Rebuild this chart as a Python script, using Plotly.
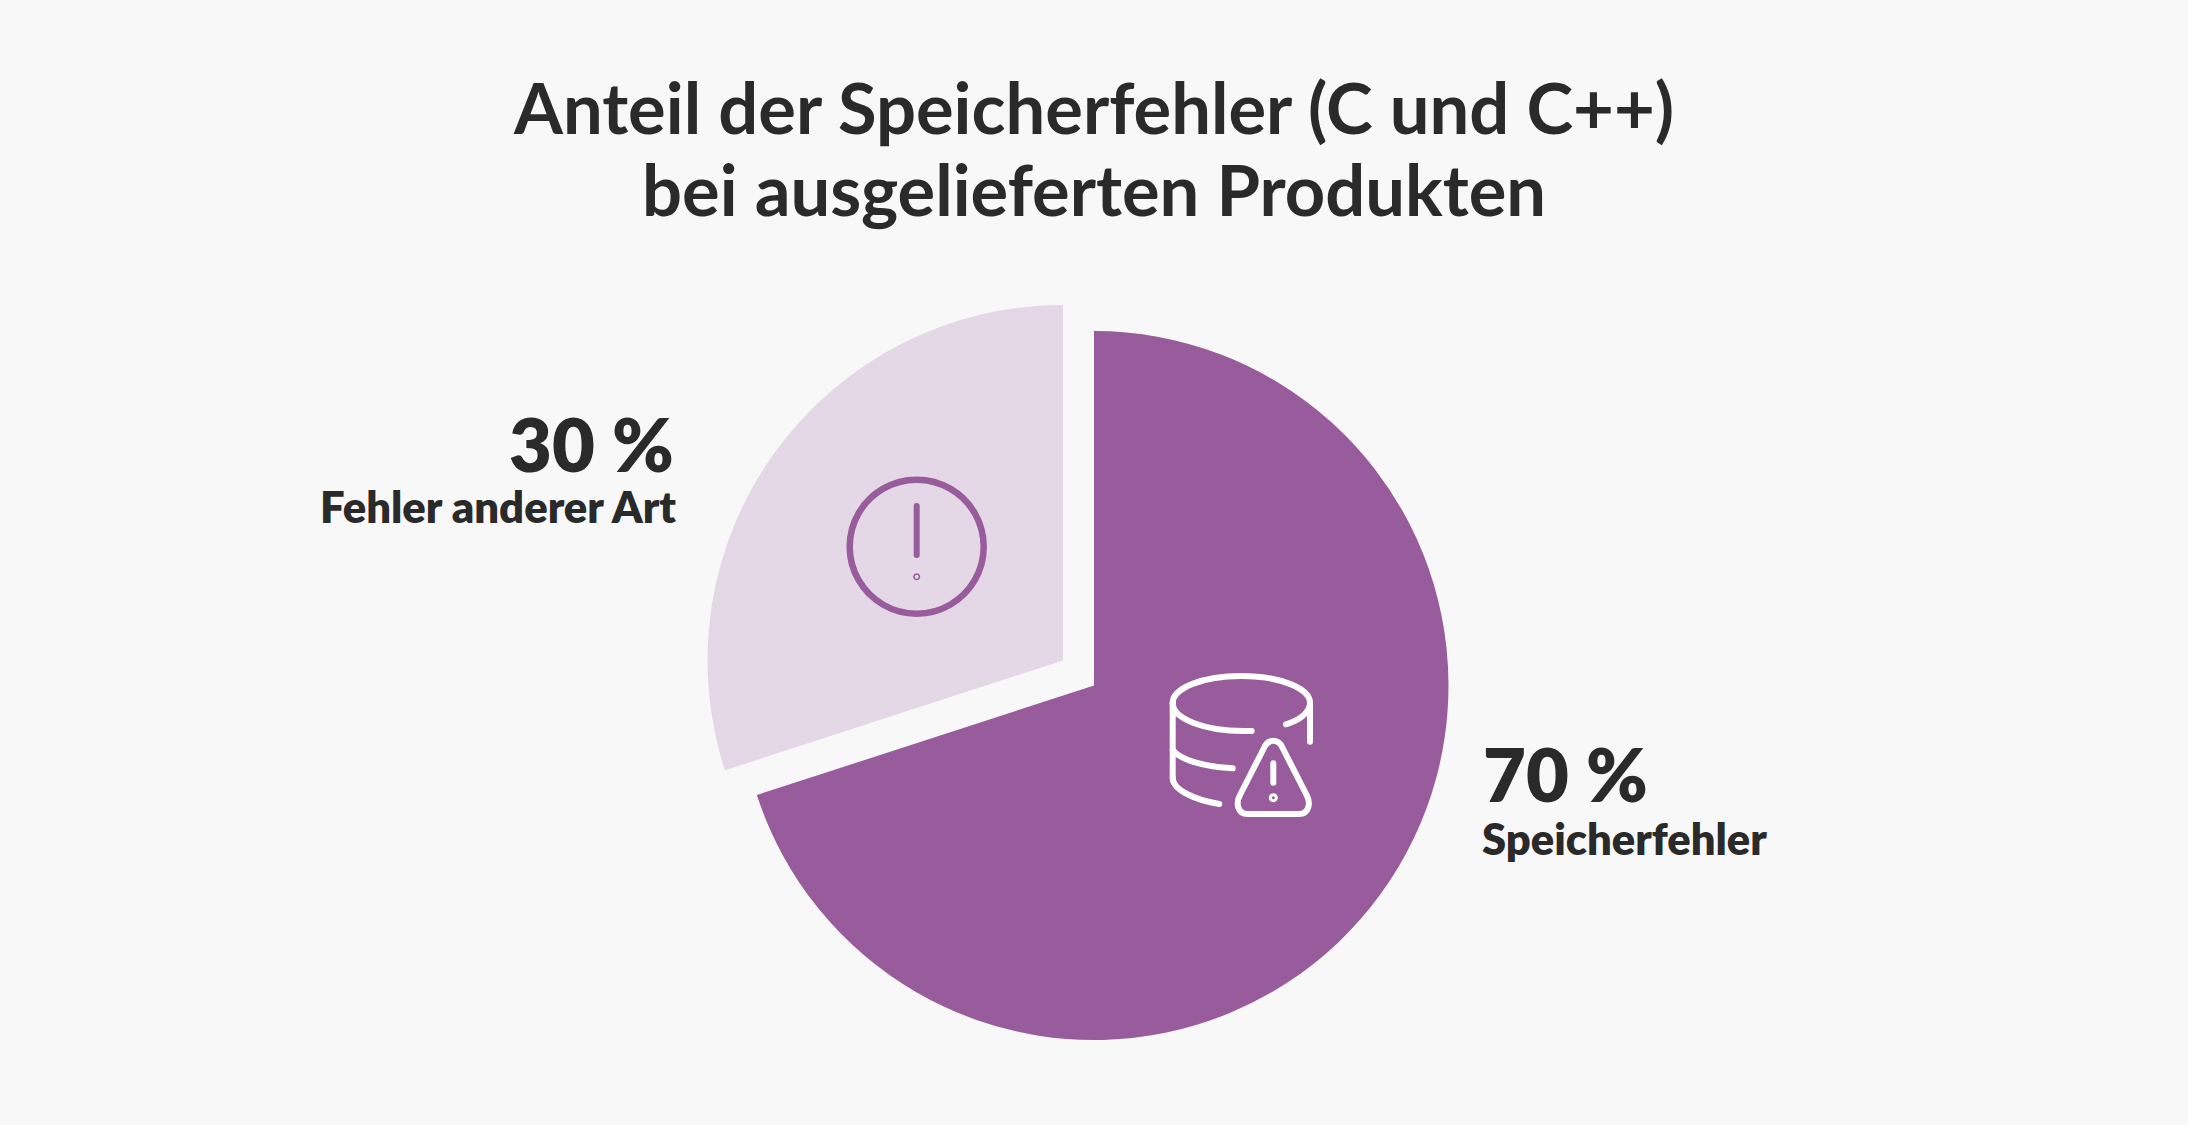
import math
import re
import plotly.graph_objects as go

W, H = 2188, 1125
title_lines = ["Anteil der Speicherfehler (C und C++)", "bei ausgelieferten Produkten"]
categories = ["Speicherfehler", "Fehler anderer Art"]
values = [70, 30]
percent_labels = ["70 %", "30 %"]
DARK, LIGHT, BG, INK = "#985B9B", "#E4D7E6", "#F8F8F8", "#2A2A2A"


def px(x): return x / W
def py(y): return 1 - y / H


def dom(cx, cy, r):
    return dict(x=[px(cx - r), px(cx + r)], y=[py(cy + r), py(cy - r)])


def pie(colors, cx, cy, r):
    return go.Pie(labels=categories, values=values, sort=False, direction="clockwise",
                  rotation=0, textinfo="none", hoverinfo="label+percent", showlegend=False,
                  marker=dict(colors=colors, line=dict(width=0)), domain=dom(cx, cy, r))


fig = go.Figure([pie([DARK, "rgba(0,0,0,0)"], 1094, 685.5, 354.5),
                 pie(["rgba(0,0,0,0)", LIGHT], 1063, 660.5, 355.5)])


def path(d):
    toks = re.findall(r"[A-Z]|-?[\d.]+", d)
    out, i = [], 0
    for t in toks:
        if t.isalpha():
            out.append(t)
        else:
            out.append(f"{px(float(t)):.6f}" if i % 2 == 0 else f"{py(float(t)):.6f}")
            i += 1
    return " ".join(out)


def stroke(d, color, w):
    return dict(type="path", xref="paper", yref="paper", path=path(d), layer="above",
                line=dict(color=color, width=w), fillcolor="rgba(0,0,0,0)")


def circle(cx, cy, r, color, w, n=12):
    step = 2 * math.pi / n
    k = 4 / 3 * math.tan(step / 4) * r
    d = f"M{cx + r:.3f} {cy:.3f}"
    for i in range(n):
        a, b = i * step, (i + 1) * step
        d += (f" C{cx + r * math.cos(a) - k * math.sin(a):.3f} {cy + r * math.sin(a) + k * math.cos(a):.3f}"
              f" {cx + r * math.cos(b) + k * math.sin(b):.3f} {cy + r * math.sin(b) - k * math.cos(b):.3f}"
              f" {cx + r * math.cos(b):.3f} {cy + r * math.sin(b):.3f}")
    return stroke(d + " Z", color, w)


W_ = "#FFFFFF"
SW = 6
shapes = [
    stroke("M1172.7 703 C1172.7 688 1203 676 1241 676 C1279 676 1310 688 1310 703", W_, SW),
    stroke("M1172.7 703 C1172.7 719 1205 731 1243 731 L1251.7 731", W_, SW),
    stroke("M1310 703 C1310 712 1300 720 1286 724.3", W_, SW),
    stroke("M1310 703 L1310 741.7", W_, SW),
    stroke("M1172.7 703 L1172.7 778", W_, SW),
    stroke("M1172.7 750 C1180 760 1205 767 1232.7 768.3", W_, SW),
    stroke("M1172.7 778 C1172.7 790 1195 800 1219.3 804", W_, SW),
    stroke("M1265 746 C1269 739 1277.6 739 1281.6 746 L1306.6 795 C1311 803 1309 814 1299 814 "
           "L1247.5 814 C1237.5 814 1235.5 803 1240 795 Z", W_, SW),
    stroke("M1273.3 763.3 L1273.3 782.7", W_, SW),
    circle(1273.3, 797.7, 3, W_, 3),
    circle(916.7, 546.7, 67, DARK, 6.5),
    stroke("M916.7 506 L916.7 555", DARK, 6),
    circle(916.7, 576.7, 2.7, DARK, 1.5),
]


def label(text, x, y, anchor, size, weight):
    return dict(text=text, x=px(x), y=py(y), xref="paper", yref="paper", xanchor=anchor,
                yanchor="middle", showarrow=False,
                font=dict(family="Lato", size=size, color=INK, weight=weight))


annotations = [
    label(percent_labels[1], 676, 443, "right", 74, 800),
    label(categories[1], 678, 506, "right", 43.6, 800),
    label(percent_labels[0], 1481, 774, "left", 74, 800),
    label(categories[0], 1480, 838, "left", 43.5, 800),
    label(title_lines[0], 1093.5, 106.5, "center", 70.5, 700),
    label(title_lines[1], 1093.5, 188, "center", 70.5, 700),
]

fig.update_layout(width=W, height=H, margin=dict(l=0, r=0, t=0, b=0), paper_bgcolor=BG,
                  plot_bgcolor=BG, shapes=shapes, annotations=annotations, showlegend=False)
fig.write_html("out.html", config={"displayModeBar": False}, post_script=(
    "document.body.style.margin='0';document.body.style.overflow='hidden';"
    "document.querySelectorAll('.shapelayer path').forEach(function(p){"
    "p.style.strokeLinecap='round';p.style.strokeLinejoin='round';});"))
